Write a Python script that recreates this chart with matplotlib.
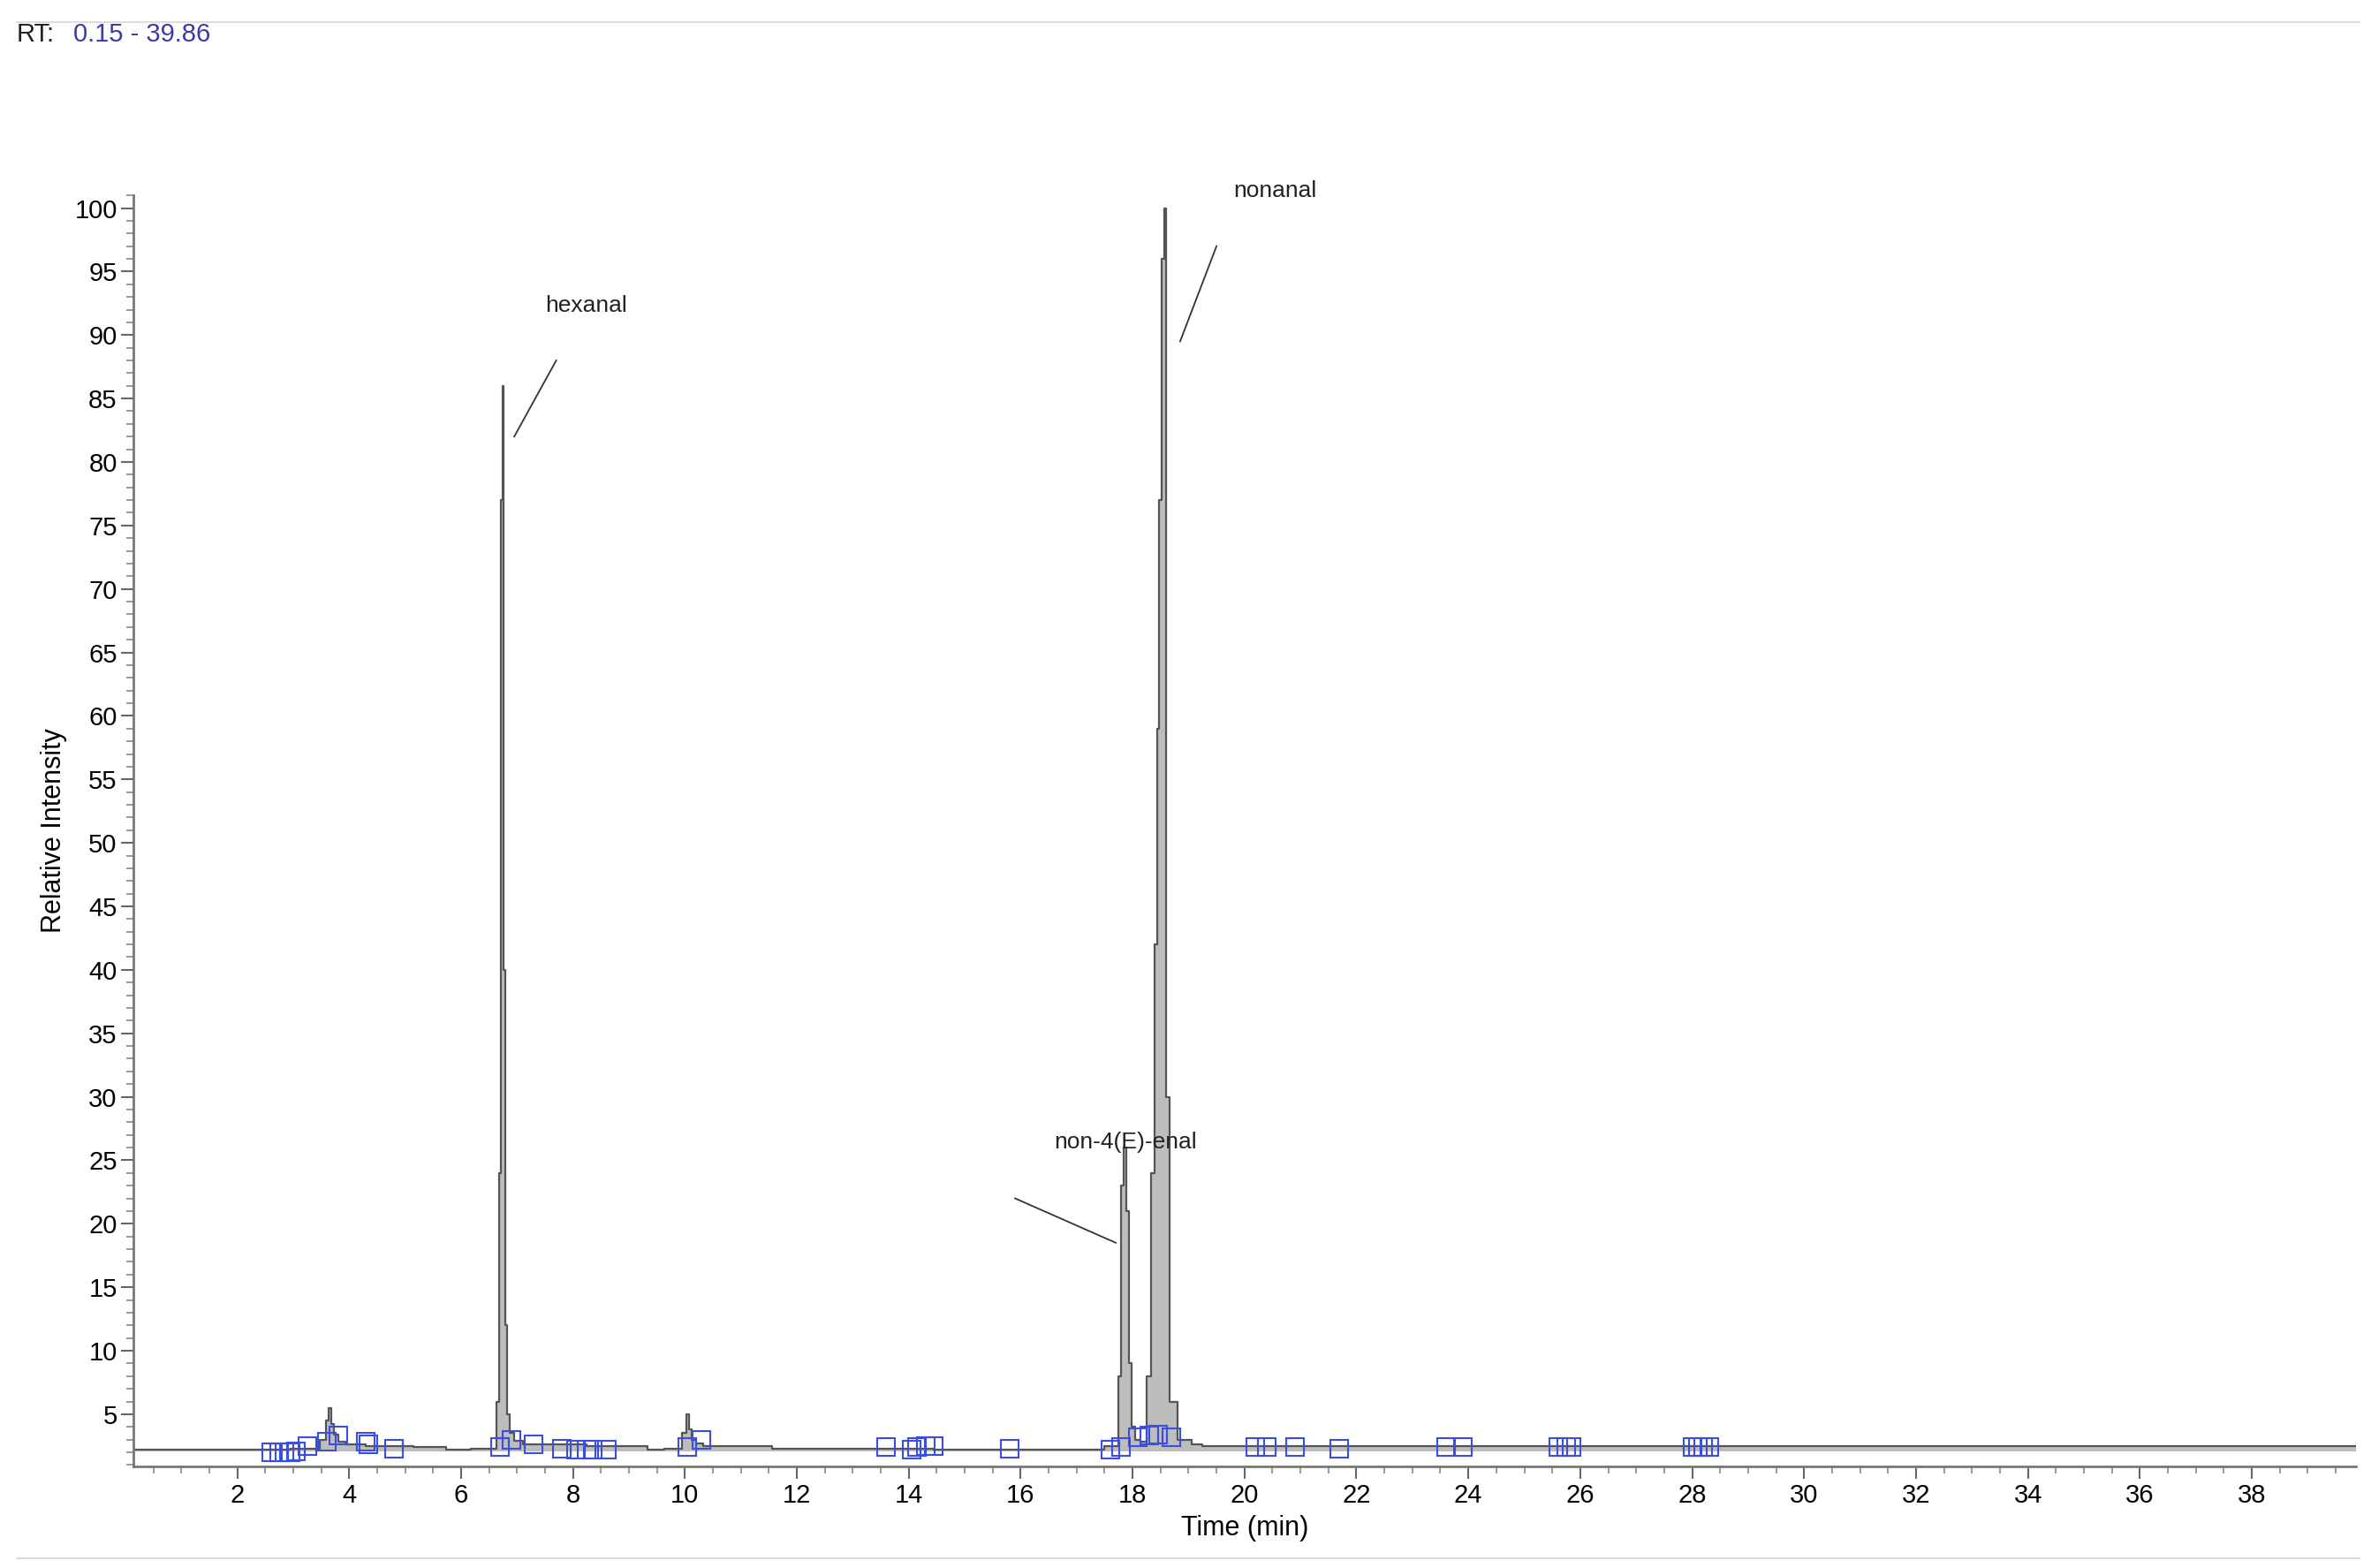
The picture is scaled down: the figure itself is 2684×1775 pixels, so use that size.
import matplotlib
matplotlib.use("Agg")
import matplotlib.pyplot as plt
from matplotlib.ticker import MultipleLocator
import numpy as np

# chromatogram trace (time in min, relative intensity)
trace_t = [0.15, 2.5, 3.4, 3.55, 3.62, 3.66, 3.7, 3.75, 3.85, 4.0, 4.6, 5.7, 5.75, 6.6, 6.66, 6.7, 6.72, 6.75, 6.78, 6.8, 6.84, 6.9, 7.0, 7.2,
           9.3, 9.35, 9.9, 10.0, 10.05, 10.1, 10.15, 10.25, 10.4, 11.5, 11.6, 17.3, 17.7, 17.78, 17.82, 17.87, 17.92, 17.96, 18.0, 18.08,
           18.2, 18.3, 18.36, 18.42, 18.46, 18.5, 18.54, 18.58, 18.62, 18.7, 18.9, 19.2, 19.3, 39.86]
trace_y = [2.2, 2.2, 2.3, 3.0, 4.5, 5.5, 4.2, 3.4, 2.8, 2.6, 2.5, 2.4, 2.2, 2.3, 6.0, 24.0, 77.0, 86.0, 40.0, 12.0, 5.0, 3.5, 2.9, 2.6,
           2.5, 2.2, 2.3, 3.5, 5.0, 3.8, 3.0, 2.7, 2.5, 2.5, 2.3, 2.2, 2.5, 8.0, 23.0, 26.0, 21.0, 9.0, 4.0, 3.0,
           2.8, 8.0, 24.0, 42.0, 59.0, 77.0, 96.0, 100.0, 30.0, 6.0, 3.0, 2.6, 2.5, 2.5]

# peak-boundary markers (blue squares)
marker_t = [2.6, 2.75, 2.85, 2.95, 3.05, 3.25, 3.6, 3.8, 4.3, 4.35, 4.8, 6.7, 6.9, 7.3, 7.8, 8.05, 8.25, 8.35, 8.6,
            10.05, 10.3, 13.6, 14.05, 14.15, 14.3, 14.45, 15.8, 17.6, 17.8, 18.1, 18.3, 18.45, 18.7,
            20.2, 20.4, 20.9, 21.7, 23.6, 23.9, 25.6, 25.75, 25.85, 28.0, 28.1, 28.2, 28.3]
marker_y = [2.0, 2.0, 2.0, 2.0, 2.1, 2.5, 2.8, 3.3, 2.8, 2.6, 2.3, 2.4, 3.0, 2.6, 2.3, 2.2, 2.2, 2.2, 2.2,
            2.4, 3.0, 2.4, 2.2, 2.4, 2.5, 2.5, 2.3, 2.2, 2.4, 3.2, 3.3, 3.4, 3.2,
            2.4, 2.4, 2.4, 2.3, 2.4, 2.4, 2.4, 2.4, 2.4, 2.4, 2.4, 2.4, 2.4]

labels = ["hexanal", "non-4(E)-enal", "nonanal"]
label_xy = [(7.5, 91.5), (16.6, 25.6), (19.8, 100.5)]
line_from = [(7.7, 88.0), (15.9, 22.0), (19.5, 97.0)]
line_to = [(6.95, 82.0), (17.7, 18.5), (18.85, 89.5)]

plt.rcParams['font.family'] = ['Liberation Sans', 'DejaVu Sans']
fig = plt.figure(figsize=(26.84, 17.75), dpi=100)
ax = fig.add_axes([0.0564, 0.0649, 0.9372, 0.8105])

ax.fill_between(trace_t, 2.1, trace_y, step='mid', color='#bdbdbd', lw=0)
ax.step(trace_t, trace_y, where='mid', color='#555555', lw=1.6)
ax.plot(marker_t, marker_y, 's', mfc='none', mec='#3a4fe0', ms=15, mew=1.5)

for lab, (lx, ly), (x0, y0), (x1, y1) in zip(labels, label_xy, line_from, line_to):
    ax.text(lx, ly, lab, fontsize=19, ha='left', va='bottom', color='#222222')
    ax.plot([x0, x1], [y0, y1], color='#333333', lw=1.3)

ax.set_xlim(0.15, 39.86)
ax.set_ylim(0.9, 101)
ax.set_xticks(np.arange(2, 39, 2))
ax.xaxis.set_minor_locator(MultipleLocator(0.5))
ax.set_yticks(np.arange(5, 101, 5))
ax.yaxis.set_minor_locator(MultipleLocator(1))
ax.tick_params(axis='both', which='major', labelsize=21, length=10, color='#666666', width=1.5)
ax.tick_params(axis='both', which='minor', length=6, color='#888888', width=1.2)
for s in ['top', 'right']:
    ax.spines[s].set_visible(False)
for s in ['left', 'bottom']:
    ax.spines[s].set_color('#777777')
    ax.spines[s].set_linewidth(2)
ax.set_xlabel('Time (min)', fontsize=22, labelpad=6)
ax.set_ylabel('Relative Intensity', fontsize=22, labelpad=6)

fig.text(0.007, 0.978, 'RT:', fontsize=21, ha='left', va='center', color='#222222')
fig.text(0.031, 0.978, '0.15 - 39.86', fontsize=21, ha='left', va='center', color='#3a3aa8')
fig.add_artist(plt.Line2D([0.007, 0.995], [0.986, 0.986], color='#dddddd', lw=1.5))
fig.add_artist(plt.Line2D([0.007, 0.995], [0.006, 0.006], color='#dddddd', lw=1.5))
fig.savefig('out.png', dpi=100, facecolor='white')
